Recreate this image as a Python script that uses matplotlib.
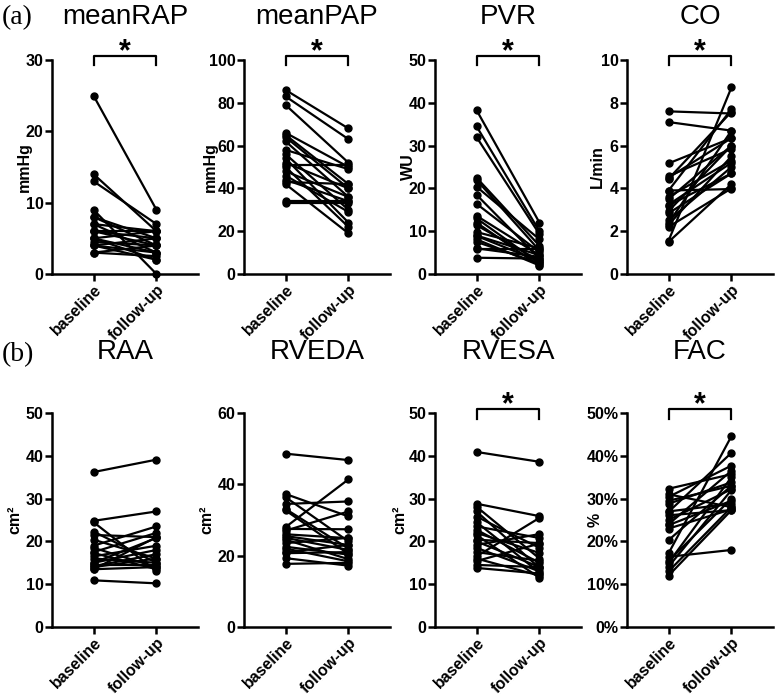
import numpy as np
import matplotlib
matplotlib.use('Agg')
import matplotlib.pyplot as plt

plt.rcParams['font.family'] = ['Liberation Sans', 'DejaVu Sans']

# paired values (baseline, follow-up)
rap_base = [25, 14, 13, 9, 8, 8, 7, 7, 6, 6, 5, 5, 5, 4.5, 4, 4, 4, 3, 3, 6]
rap_follow = [9, 6, 7, 0, 5, 4, 6, 3, 5, 4, 6, 3, 2, 4, 5, 3, 2, 4, 2.5, 6]

pap_base = [86, 83, 79, 66, 65, 64, 62, 58, 56, 54, 52, 51, 50, 48, 44, 43, 42, 34, 33, 46]
pap_follow = [68, 63, 52, 50, 42, 40, 36, 49, 30, 24, 40, 51, 22, 36, 34, 42, 19, 34, 33, 29]

pvr_base = [38.3, 34.5, 32, 22.5, 22, 20.4, 18.5, 16.4, 13.6, 13, 11.4, 9.8, 8.9, 8.1, 7.5, 6, 5.9, 3.8, 9, 12]
pvr_follow = [12, 10, 9.3, 6.6, 5.5, 8.1, 3.6, 5.1, 4.4, 2.5, 3.1, 6, 3, 2, 2.5, 4, 5.9, 3.6, 4.4, 1.9]

co_base = [7.6, 7.1, 5.17, 4.57, 4.45, 3.9, 3.6, 3.24, 2.94, 2.84, 2.38, 2.3, 1.55, 1.5, 4.5, 3.9, 3.2, 2.5, 2.2, 3.5]
co_follow = [7.5, 6.7, 6.35, 5.85, 7.58, 3.97, 5.3, 5.2, 6.0, 4.7, 6.7, 5.5, 8.72, 4.2, 6.35, 7.7, 4.7, 5.0, 4.0, 6.0]

raa_base = [36.2, 24.8, 24.5, 22.3, 21.5, 20.4, 19, 18.5, 17.5, 17.3, 16.5, 16, 15, 15, 14.5, 14.2, 13.5, 13.5, 10.9, 14]
raa_follow = [39.1, 27, 13, 15, 21, 16, 23.5, 14, 22, 13.5, 19, 15, 18, 20.8, 14.5, 17, 14, 21, 10.2, 16]

rveda_base = [48.6, 37.3, 36.4, 34.5, 33.1, 32.7, 28, 27.5, 27, 26, 25.5, 25, 24.5, 23.5, 22.5, 22, 21, 20.7, 19.3, 17.7]
rveda_follow = [46.8, 31, 24, 35.2, 22, 20.5, 41.4, 27.4, 32.4, 24.9, 23, 21.6, 19, 25, 20.3, 18.4, 23, 21, 17.2, 18]

rvesa_base = [40.9, 28.8, 28.1, 27, 25.8, 24.5, 23.5, 22.7, 22, 21.5, 20.4, 20, 19.2, 18.5, 17.5, 16.5, 16, 15.4, 14.5, 13.8]
rvesa_follow = [38.6, 25.9, 16, 13.8, 18.5, 12.7, 20.8, 15, 17.3, 11.5, 19.6, 14, 21.7, 13, 15.5, 25.5, 12, 19.5, 14, 12.5]

fac_base = [32.3, 31, 30.4, 29.5, 28.8, 27, 26.9, 26.1, 25, 24, 23.8, 23, 20.3, 17.2, 16.4, 15.4, 15, 14.1, 13, 12]
fac_follow = [35.7, 28, 37.7, 33, 33.8, 28.8, 40.7, 27.3, 32.2, 36.5, 29.5, 27.5, 33, 44.6, 18, 30, 35, 32, 28, 27.3]

groups = ['baseline', 'follow-up']

panels = [
	('meanRAP', 'mmHg', rap_base, rap_follow, [0, 10, 20, 30], '{:g}', True),
	('meanPAP', 'mmHg', pap_base, pap_follow, [0, 20, 40, 60, 80, 100], '{:g}', True),
	('PVR', 'WU', pvr_base, pvr_follow, [0, 10, 20, 30, 40, 50], '{:g}', True),
	('CO', 'L/min', co_base, co_follow, [0, 2, 4, 6, 8, 10], '{:g}', True),
	('RAA', 'cm²', raa_base, raa_follow, [0, 10, 20, 30, 40, 50], '{:g}', False),
	('RVEDA', 'cm²', rveda_base, rveda_follow, [0, 20, 40, 60], '{:g}', False),
	('RVESA', 'cm²', rvesa_base, rvesa_follow, [0, 10, 20, 30, 40, 50], '{:g}', True),
	('FAC', '%', fac_base, fac_follow, [0, 10, 20, 30, 40, 50], '{:g}%', True),
]

W, H = 777, 697
fig = plt.figure(figsize=(W/100, H/100), dpi=100)

lefts = [52, 244, 435, 627]
tops = [60, 413]
aw, ah = 146, 214
# horizontal place of the unit label, as a fraction of the axes width
label_x = [-0.14, -0.18, -0.13, -0.15, -0.2, -0.2, -0.19, -0.17]

for i, (title, unit, base, follow, ticks, fmt, sig) in enumerate(panels):
	row, col = divmod(i, 4)
	x0 = lefts[col]
	y0 = tops[row] + ah
	ax = fig.add_axes([x0/W, 1 - y0/H, aw/W, ah/H])
	for b, f in zip(base, follow):
		ax.plot([0, 1], [b, f], color='black', lw=1.6, marker='o', ms=5, clip_on=False, zorder=3)
	ax.set_xlim(-0.66, 1.66)
	ax.set_ylim(ticks[0], ticks[-1])
	ax.set_yticks(ticks)
	ax.set_yticklabels([fmt.format(t) for t in ticks], fontsize=11.5, fontweight='bold')
	ax.set_xticks([0, 1])
	ax.set_xticklabels(groups, rotation=45, ha='right', va='top', rotation_mode='anchor', fontsize=11.5, fontweight='bold')
	for s in ['top', 'right']:
		ax.spines[s].set_visible(False)
	for s in ['left', 'bottom']:
		ax.spines[s].set_linewidth(1.8)
	ax.tick_params(width=1.8, length=5, pad=1)
	ax.set_ylabel(unit, fontsize=11.5, fontweight='bold')
	ax.yaxis.set_label_coords(label_x[i], 0.5)
	ty = 1.2 if row == 0 else 1.285
	ax.text(0.5, ty, title, transform=ax.transAxes, ha='center', va='center', fontsize=20)
	if sig:
		bt = 1.02 if row == 0 else 1.019
		bb = bt - 0.045
		ax.plot([0, 0, 1, 1], [bb, bt, bt, bb], color='black', lw=1.6, transform=ax.get_xaxis_transform(), clip_on=False)
		ax.text(0.5, bt - 0.02, '*', transform=ax.get_xaxis_transform(), ha='center', va='baseline', fontsize=22, fontweight='bold')

fig.text(2/W, 1 - 18/H, '(a)', family=['Liberation Serif', 'DejaVu Serif'], fontsize=20, va='center', ha='left')
fig.text(2/W, 1 - 355/H, '(b)', family=['Liberation Serif', 'DejaVu Serif'], fontsize=20, va='center', ha='left')

plt.savefig('out.png', dpi=100)
